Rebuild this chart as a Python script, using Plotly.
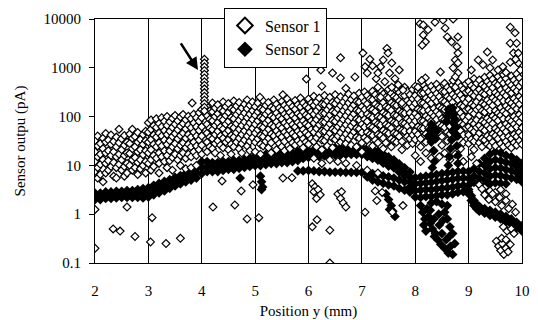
import math
import plotly.graph_objects as go

# ---------------- Sensor 1 (open diamonds) ----------------
# main cloud: (x position, [values in pA])
s1_cloud = [
    (2.00, [32, 19, 12, 7.5]), (2.05, [40, 25, 15, 9, 5.5]), (2.10, [28, 17, 10.5, 6.5]),
    (2.15, [36, 22, 13, 4.6]), (2.20, [45, 30, 18, 11, 7]), (2.25, [33, 20, 12.5, 8]),
    (2.30, [42, 27, 16, 9.5]), (2.35, [31, 19, 11.5, 6]), (2.40, [38, 24, 15, 9, 5.5]),
    (2.45, [55, 29, 17, 10.5]), (2.50, [35, 21, 13, 8]), (2.55, [41, 26, 16, 9.5, 6]),
    (2.60, [30, 18, 11, 7]), (2.65, [44, 28, 17.5, 10]), (2.70, [55, 36, 22, 13, 8]),
    (2.75, [39, 24, 14.5, 9]), (2.80, [47, 30, 19, 11.5, 6.5]), (2.85, [34, 21, 13, 8.5]),
    (2.90, [43, 27, 16.5, 10]), (2.95, [50, 32, 20, 12, 7]),
    (3.00, [75, 48, 30, 18, 11]), (3.05, [85, 55, 34, 21, 13, 8]), (3.10, [65, 42, 27, 16, 9.5]),
    (3.15, [90, 60, 38, 24, 14]), (3.20, [72, 46, 29, 18, 11, 7]), (3.25, [95, 62, 40, 25, 15]),
    (3.30, [80, 52, 33, 20, 12]), (3.35, [100, 66, 43, 27, 16, 9]), (3.40, [78, 50, 32, 20, 12.5]),
    (3.45, [92, 60, 39, 24, 14.5, 8]), (3.50, [105, 70, 45, 28, 17]), (3.55, [82, 54, 35, 22, 13]),
    (3.60, [98, 64, 41, 26, 16, 10]), (3.65, [110, 72, 46, 29, 18]), (3.70, [86, 56, 36, 23, 14, 8.5]),
    (3.75, [102, 67, 43, 27, 17]), (3.80, [90, 59, 38, 24, 15, 9]), (3.85, [112, 74, 48, 30, 19]),
    (3.90, [95, 62, 40, 25, 16, 10]), (3.95, [120, 80, 52, 33, 21]),
    (4.00, [140, 95, 62, 40, 26, 17]), (4.10, [160, 105, 70, 46, 30, 19]), (4.15, [130, 88, 58, 38, 24]),
    (4.20, [190, 125, 82, 54, 35, 22]), (4.25, [150, 100, 66, 43, 28, 18]), (4.30, [175, 115, 76, 50, 32]),
    (4.35, [140, 92, 61, 40, 26, 16]), (4.40, [200, 130, 86, 56, 36, 23]), (4.45, [160, 105, 70, 46, 30]),
    (4.50, [185, 122, 80, 52, 34, 21]), (4.55, [145, 96, 63, 41, 27, 17]), (4.60, [210, 138, 90, 59, 38, 24]),
    (4.65, [165, 110, 72, 47, 30]), (4.70, [195, 128, 84, 55, 36, 22]), (4.75, [150, 100, 66, 43, 28, 18]),
    (4.80, [180, 118, 78, 51, 33]), (4.85, [220, 145, 95, 62, 40, 25]), (4.90, [170, 112, 74, 48, 31, 20]),
    (4.95, [200, 132, 87, 57, 37]),
    (5.00, [160, 106, 70, 46, 30, 19]), (5.05, [190, 125, 82, 54, 35]), (5.10, [145, 96, 63, 41, 27, 17]),
    (5.15, [210, 138, 91, 60, 39, 25]), (5.20, [170, 112, 74, 48, 31]), (5.25, [195, 128, 84, 55, 36, 23]),
    (5.30, [155, 102, 67, 44, 29, 18]), (5.35, [220, 145, 95, 62, 40]), (5.40, [180, 118, 78, 51, 33, 21]),
    (5.45, [150, 99, 65, 43, 28]), (5.50, [205, 135, 89, 58, 38, 24]), (5.55, [170, 112, 74, 48, 31, 20]),
    (5.60, [230, 150, 100, 65, 42]), (5.65, [185, 122, 80, 52, 34, 22]), (5.70, [160, 105, 69, 45, 29]),
    (5.75, [215, 141, 93, 61, 40, 26]), (5.80, [175, 115, 76, 50, 32]), (5.85, [240, 158, 104, 68, 44, 28]),
    (5.90, [190, 125, 82, 54, 35, 23]), (5.95, [165, 108, 71, 47, 30]),
    (6.00, [230, 150, 99, 65, 42, 27]), (6.05, [190, 125, 82, 54, 35]), (6.10, [260, 170, 112, 74, 48, 31, 14]),
    (6.15, [200, 132, 87, 57, 37, 24]), (6.20, [240, 158, 104, 68, 44]), (6.25, [180, 118, 78, 51, 33, 21, 11]),
    (6.30, [270, 178, 117, 77, 50, 32]), (6.35, [210, 138, 91, 60, 39, 25]), (6.40, [250, 165, 108, 71, 46, 13]),
    (6.45, [195, 128, 84, 55, 36, 23]), (6.50, [280, 185, 122, 80, 52, 34]), (6.55, [220, 145, 95, 62, 40, 12]),
    (6.60, [255, 168, 110, 72, 47, 30]), (6.65, [200, 132, 87, 57, 37]), (6.70, [240, 158, 104, 68, 44, 28, 11]),
    (6.75, [290, 190, 125, 82, 54, 35]), (6.80, [225, 148, 97, 64, 41, 26]), (6.85, [265, 174, 114, 75, 49]),
    (6.90, [205, 135, 89, 58, 38, 24, 10]), (6.95, [300, 198, 130, 85, 56, 36]),
    (7.00, [250, 160, 112, 70, 47, 29, 19]), (7.05, [320, 205, 140, 88, 61, 37]), (7.10, [270, 182, 113, 79, 48, 33, 8]),
    (7.15, [230, 146, 101, 63, 43, 26]), (7.20, [330, 222, 139, 96, 60, 41, 25]), (7.25, [280, 180, 126, 77, 54, 33]),
    (7.30, [240, 162, 100, 70, 43, 29, 7]), (7.35, [350, 225, 155, 96, 67, 41]), (7.40, [290, 195, 121, 84, 52, 36, 22]),
    (7.45, [250, 160, 111, 69, 47, 29]), (7.50, [360, 243, 151, 105, 64, 45]), (7.55, [300, 192, 134, 82, 58, 35, 24]),
    (7.60, [260, 175, 108, 76, 46, 32]), (7.65, [380, 244, 169, 104, 73, 44, 30]), (7.70, [310, 209, 130, 91, 56, 39]),
    (7.75, [270, 173, 120, 74, 52, 31, 21]), (7.80, [400, 270, 168, 117, 72, 50]), (7.85, [330, 212, 147, 90, 64, 39, 26]),
    (7.90, [280, 189, 118, 82, 50, 35]), (7.95, [360, 231, 160, 99, 69, 42, 28]),
    (8.00, [420, 270, 187, 116, 81, 50, 34, 16]), (8.05, [340, 229, 142, 99, 62, 43]),
    (8.10, [300, 193, 134, 82, 58, 35, 24, 12]), (8.15, [450, 303, 189, 131, 81, 57]),
    (8.20, [370, 238, 165, 102, 71, 44, 30, 18]), (8.25, [320, 215, 134, 93, 58, 40]),
    (8.30, [420, 270, 187, 116, 81, 50, 34, 14]), (8.35, [350, 236, 147, 102, 63, 44, 20]),
    (8.40, [460, 296, 205, 127, 88, 55, 37]), (8.45, [380, 256, 159, 111, 68, 47, 15]),
    (8.50, [330, 212, 147, 91, 64, 39, 26]), (8.55, [480, 323, 201, 140, 86, 60, 18]),
    (8.60, [400, 257, 178, 110, 77, 48, 32]), (8.65, [350, 236, 146, 102, 63, 44, 13]),
    (8.70, [440, 283, 196, 121, 85, 52, 35]), (8.75, [370, 249, 155, 108, 66, 46, 17]),
    (8.80, [500, 322, 222, 138, 96, 59, 40]), (8.85, [410, 276, 171, 119, 73, 51, 22]),
    (8.90, [360, 231, 161, 99, 69, 42, 29, 12]), (8.95, [470, 317, 197, 137, 84, 59]),
    (9.00, [520, 334, 232, 143, 100, 62, 42, 28]), (9.05, [430, 290, 180, 125, 77, 54, 34, 15]),
    (9.10, [600, 386, 268, 166, 115, 71, 49, 31, 21]), (9.15, [480, 323, 201, 139, 86, 60, 38, 11]),
    (9.20, [560, 360, 250, 155, 107, 66, 46, 29, 4]), (9.25, [450, 303, 188, 131, 80, 56, 35, 24]),
    (9.30, [640, 411, 286, 176, 123, 75, 52, 33, 3.5]), (9.35, [520, 350, 217, 151, 92, 65, 40, 27]),
    (9.40, [700, 450, 312, 193, 134, 82, 57, 36, 25, 3]), (9.45, [580, 390, 242, 168, 103, 72, 44, 30]),
    (9.50, [480, 309, 214, 132, 92, 57, 40, 25, 2.8]), (9.55, [660, 444, 276, 192, 117, 82, 51, 35]),
    (9.60, [550, 354, 245, 152, 106, 65, 45, 28, 3.2]), (9.65, [720, 485, 301, 209, 128, 90, 56, 38, 24]),
    (9.70, [600, 386, 268, 165, 115, 71, 49, 31, 2.6]), (9.75, [500, 336, 209, 145, 89, 62, 39, 26]),
    (9.80, [680, 437, 303, 188, 131, 80, 56, 35, 23]), (9.85, [560, 377, 234, 163, 100, 70, 43, 29]),
    (9.90, [750, 482, 334, 207, 144, 88, 61, 39, 26]), (9.95, [620, 417, 259, 180, 110, 77, 48, 32]),
    (10.00, [500, 322, 223, 138, 96, 59, 41, 27]),
]
# the tall spike near y = 4 mm (marked by the arrow)
s1_spike_x = 4.05
s1_spike_y = [1500, 1250, 1050, 880, 740, 620, 520, 440, 370, 310, 260, 220, 185, 155, 130]
# scattered outliers
s1_out_x = [2.00, 2.00, 2.34, 2.47, 2.60, 2.75, 3.07, 3.04, 3.33, 3.60, 4.21, 4.62, 4.85, 5.07,
            4.74, 4.96, 4.38, 5.52, 5.69, 6.07, 6.16, 6.40, 6.40, 6.07, 6.12, 6.10, 6.18, 6.22,
            6.15, 6.55, 6.60, 6.65, 6.70, 6.62, 7.06, 7.28, 7.38, 7.57, 7.77, 7.25,
            9.25, 9.30, 9.38, 9.45, 9.50, 9.58, 9.62, 9.70, 9.75, 9.82, 9.88,
            9.52, 9.56, 9.60, 9.63, 9.66, 9.70, 9.74, 9.62, 9.70, 9.78, 9.65, 9.72, 9.80, 9.85,
            3.82, 5.09, 5.52, 5.96, 6.23, 6.60, 6.45, 6.60, 6.25, 6.70, 6.87, 7.02, 7.06, 7.10,
            7.15, 7.20, 7.27, 7.30, 7.35, 7.47, 7.49, 7.40, 7.56, 7.35, 7.30, 7.52, 7.43, 7.56,
            7.77, 7.75, 7.62, 7.68, 7.70,
            8.09, 8.15, 8.24, 8.15, 8.19, 8.13, 8.37, 8.52, 8.71, 8.56, 8.60, 8.68, 8.80, 8.78,
            8.80, 8.75, 8.80, 8.71, 8.80, 8.71, 8.75, 8.47, 8.19, 8.05, 8.12, 8.75,
            9.78, 9.87, 9.78, 9.90, 9.84, 9.93, 9.78, 9.93, 9.35, 9.18, 9.45, 9.64, 9.27, 9.05,
            9.55, 9.70, 9.40, 9.97, 9.88]
s1_out_y = [1.25, 0.2, 0.5, 0.45, 1.4, 0.35, 0.85, 0.27, 0.25, 0.32, 1.4, 1.55, 0.8, 0.85,
            3.0, 4.0, 4.8, 5.5, 5.6, 0.55, 0.77, 0.47, 0.1, 4.2, 3.6, 2.9, 3.2, 2.5,
            2.1, 2.6, 2.1, 1.7, 1.4, 2.9, 1.1, 1.9, 2.8, 1.1, 1.5, 3.0,
            3.3, 2.5, 2.0, 2.6, 1.8, 2.2, 1.5, 1.9, 1.3, 1.6, 1.1,
            0.28, 0.22, 0.18, 0.25, 0.15, 0.2, 0.17, 0.32, 0.3, 0.24, 0.55, 0.45, 0.5, 0.4,
            190, 250, 280, 590, 900, 1600, 780, 620, 420, 380, 650, 2000, 1050, 780,
            1500, 1100, 600, 400, 250, 2500, 2000, 1450, 1250, 1050, 780, 780, 520, 400,
            350, 190, 600, 450, 900,
            8000, 7500, 6000, 4700, 3400, 2900, 8600, 9500, 10000, 6500, 4300, 3400, 4300, 2700,
            2000, 1450, 1250, 1000, 780, 550, 400, 820, 620, 400, 550, 650,
            6800, 5200, 3200, 3200, 2000, 2000, 1300, 1250, 2100, 1450, 1450, 1050, 1150, 900,
            900, 800, 1000, 900, 1500]

# ---------------- Sensor 2 (filled diamonds) ----------------
# band from 2.0 to 5.7 mm: top, middle and bottom rows
s2_a_x = [2.0, 2.1, 2.2, 2.3, 2.4, 2.5, 2.6, 2.7, 2.8, 2.9, 3.0, 3.1, 3.2, 3.3, 3.4, 3.5, 3.6, 3.7, 3.8, 3.9,
          4.0, 4.1, 4.2, 4.3, 4.4, 4.5, 4.6, 4.7, 4.8, 4.9, 5.0, 5.1, 5.2, 5.3, 5.4, 5.5, 5.6, 5.7]
s2_a_top = [2.7, 2.7, 2.85, 2.85, 2.95, 2.95, 3.05, 3.05, 3.2, 3.35, 3.5, 3.9, 4.3, 4.7, 5.1, 5.65, 6.2, 6.8, 7.5, 8.5,
            12, 12, 11.4, 11.4, 12, 12, 12.6, 12.6, 13.2, 13.9, 16, 16, 16.8, 16.8, 17.5, 17.5, 18.4, 18.4]
s2_a_mid = [2.36, 2.36, 2.5, 2.5, 2.55, 2.6, 2.65, 2.65, 2.7, 2.7, 2.85, 3.1, 3.4, 3.8, 4.3, 4.7, 5.1, 5.65, 6.2, 7.0,
            9.1, 9.5, 9.3, 9.3, 9.7, 9.9, 10.2, 10.4, 10.9, 11.4, 12.6, 12.6, 13.2, 13.5, 13.9, 14.2, 14.6, 14.9]
s2_a_bot = [2.0, 2.0, 2.1, 2.1, 2.15, 2.2, 2.2, 2.2, 2.2, 2.15, 2.25, 2.5, 2.75, 3.0, 3.4, 3.8, 4.2, 4.6, 5.0, 5.5,
            6.8, 7.5, 7.5, 7.5, 7.9, 8.3, 8.3, 8.7, 9.1, 9.5, 9.9, 9.9, 10.4, 10.9, 10.9, 11.4, 11.4, 12.0]
# upper band from 5.8 to 7.9 mm
s2_b_x = [5.8, 5.9, 6.0, 6.1, 6.2, 6.3, 6.4, 6.5, 6.6, 6.7, 6.8, 6.9, 7.0, 7.1, 7.2, 7.3, 7.4, 7.5, 7.6, 7.7, 7.8, 7.9]
s2_b_top = [19.3, 19.3, 20.2, 20.7, 21.2, 21.7, 22.3, 22.8, 22.8, 23.4, 23.4, 23.4, 23.4, 22.3, 21.2, 19.7, 17.1, 14.9, 12.9, 10.7, 8.9, 7.3]
s2_b_mid = [15.6, 16.3, 17.1, 17.5, 17.9, 18.4, 18.8, 19.3, 19.3, 19.7, 19.7, 19.7, 19.7, 18.4, 17.5, 16.0, 13.9, 12.0, 10.6, 8.9, 7.3, 5.8]
s2_b_bot = [12.6, 13.9, 14.6, 14.9, 15.2, 15.6, 16.0, 16.3, 16.3, 16.8, 16.8, 16.8, 16.8, 15.2, 13.9, 12.9, 11.1, 9.7, 8.9, 7.3, 6.1, 4.6]
# lower band from 5.8 to 7.9 mm
s2_c_y = [7.7, 7.7, 7.9, 7.7, 7.5, 7.5, 7.3, 7.3, 7.3, 7.2, 7.2, 7.2, 7.2, 7.0, 6.8, 6.3, 6.1, 5.8, 5.5, 5.0, 4.6, 3.6]
s2_c2_x = [7.1, 7.2, 7.3, 7.4, 7.5, 7.6, 7.7, 7.8, 7.9]
s2_c2_y = [5.8, 5.0, 4.6, 4.3, 4.0, 3.8, 3.4, 3.1, 2.85]
# main mass from 8.0 to 9.0 mm (four rows)
s2_d_x = [8.0, 8.1, 8.2, 8.3, 8.4, 8.5, 8.6, 8.7, 8.8, 8.9, 9.0]
s2_d_r1 = [5.6, 5.8, 6.0, 6.2, 6.5, 6.8, 7.0, 7.2, 7.5, 7.6, 7.5]
s2_d_r2 = [4.2, 4.3, 4.4, 4.5, 4.7, 4.9, 5.0, 5.2, 5.4, 5.5, 5.4]
s2_d_r3 = [3.05, 3.1, 3.2, 3.2, 3.3, 3.4, 3.5, 3.6, 3.8, 3.9, 3.9]
s2_d_r4 = [2.25, 2.2, 2.3, 2.3, 2.4, 2.5, 2.5, 2.6, 2.8, 2.9, 2.9]
# upper mass from 9.1 to 10 mm
s2_e = [
    (9.1, [8.5, 6.0, 4.5]), (9.2, [11, 7.5, 5.5, 4.0]), (9.3, [14, 10, 7, 5, 3.8]),
    (9.4, [17, 12, 8.5, 6, 4.2]), (9.5, [19, 13, 9, 6.3, 4.4]), (9.6, [18, 12.5, 8.8, 6.2, 4.3]),
    (9.7, [16, 11.5, 8.2, 5.8, 4.2]), (9.8, [15, 11, 7.8, 5.5]), (9.9, [13, 9.5, 7, 5.2]),
    (10.0, [11, 8, 6, 4.6]),
]
# descending lower branch 9 to 10 mm
s2_f_x = [9.0, 9.05, 9.1, 9.15, 9.2, 9.3, 9.4, 9.5, 9.6, 9.7, 9.8, 9.9, 10.0]
s2_f_r1 = [3.2, 2.4, 1.9, 1.6, 1.45, 1.3, 1.2, 1.1, 1.0, 0.9, 0.8, 0.68, 0.58]
s2_f_r2 = [2.6, 1.9, 1.5, 1.3, 1.15, 1.05, 0.95, 0.87, 0.8, 0.7, 0.62, 0.53, 0.45]
# isolated groups: dip at 5.1, cluster at 7.5, drops at 8-9 mm
s2_g_x = [5.10, 5.12, 5.14, 5.12, 4.72,
          7.45, 7.50, 7.55, 7.58, 7.62, 7.52,
          8.10, 8.14, 8.18, 8.16, 8.22, 8.25, 8.28, 8.32, 8.35, 8.38, 8.42, 8.45, 8.48, 8.50,
          8.55, 8.58, 8.62, 8.66, 8.70, 8.74, 8.70, 8.65, 8.60, 8.55, 8.60, 8.50, 8.40, 8.30,
          8.20, 8.28, 8.44, 8.36, 8.52, 8.64]
s2_g_y = [6.0, 4.6, 3.6, 3.2, 5.5,
          2.6, 2.0, 1.5, 1.15, 0.9, 1.25,
          1.5, 1.1, 0.8, 0.6, 1.3, 0.9, 0.65, 0.5, 0.8, 0.4, 0.3, 0.6, 0.24, 0.4,
          0.2, 0.3, 0.16, 0.22, 0.15, 0.25, 0.4, 0.55, 0.8, 1.1, 1.5, 1.6, 1.8, 1.7,
          0.45, 1.2, 1.0, 0.35, 0.75, 0.35]
# loop rising above the band near 8.3-8.8 mm (drawn in front)
s2_loop_x = [8.25, 8.28, 8.30, 8.33, 8.36, 8.38, 8.30, 8.40, 8.34, 8.36, 8.32,
             8.62, 8.64, 8.66, 8.68, 8.70, 8.71, 8.72, 8.70, 8.68, 8.74, 8.76, 8.78, 8.78, 8.80, 8.80,
             8.60, 8.62, 8.64, 8.58]
s2_loop_y = [40, 55, 70, 60, 45, 35, 30, 50, 20, 12, 9,
             10, 15, 22, 33, 50, 75, 110, 150, 130, 90, 60, 40, 25, 16, 11,
             100, 140, 120, 80]

# ---------------- assemble ----------------
s1_x, s1_y = [], []
for xv, vals in s1_cloud:
    for v in vals:
        s1_x.append(xv); s1_y.append(v)
for v in s1_spike_y:
    s1_x.append(s1_spike_x); s1_y.append(v)
s1_x += s1_out_x; s1_y += s1_out_y

s2_x, s2_y = [], []
for row in (s2_a_top, s2_a_mid, s2_a_bot):
    s2_x += s2_a_x; s2_y += row
for row in (s2_b_top, s2_b_mid, s2_b_bot, s2_c_y):
    s2_x += s2_b_x; s2_y += row
s2_x += s2_c2_x; s2_y += s2_c2_y
for row in (s2_d_r1, s2_d_r2, s2_d_r3, s2_d_r4):
    s2_x += s2_d_x; s2_y += row
for xv, vals in s2_e:
    for v in vals:
        s2_x.append(xv); s2_y.append(v)
for row in (s2_f_r1, s2_f_r2):
    s2_x += s2_f_x; s2_y += row
s2_x += s2_g_x; s2_y += s2_g_y

FONT = "Liberation Serif"
S2_MARKER = dict(symbol="diamond", size=7.5, color="black", line=dict(width=0))

fig = go.Figure()
fig.add_trace(go.Scatter(
    x=s2_x, y=s2_y, mode="markers", name="Sensor 2", legendrank=2, marker=S2_MARKER,
))
fig.add_trace(go.Scatter(
    x=s1_x, y=s1_y, mode="markers", name="Sensor 1", legendrank=1,
    marker=dict(symbol="diamond", size=6, color="white", line=dict(width=1.2, color="black")),
))
fig.add_trace(go.Scatter(
    x=s2_loop_x, y=s2_loop_y, mode="markers", name="Sensor 2", showlegend=False, marker=S2_MARKER,
))

fig.add_annotation(
    x=3.93, y=math.log10(900), ax=3.59, ay=math.log10(3400),
    xref="x", yref="y", axref="x", ayref="y",
    text="", showarrow=True, arrowhead=2, arrowsize=1.0, arrowwidth=2.5, arrowcolor="black",
)

fig.update_layout(
    width=538, height=320,
    margin=dict(l=95, r=16, t=19, b=57, autoexpand=False),
    paper_bgcolor="white", plot_bgcolor="white",
    font=dict(family=FONT, size=15, color="black"),
    showlegend=True,
    legend=dict(
        x=0.302, y=1.047, xanchor="left", yanchor="top",
        bgcolor="white", bordercolor="black", borderwidth=1,
        font=dict(family=FONT, size=16, color="black"),
        itemsizing="constant",
    ),
    xaxis=dict(
        range=[2, 10], tickvals=[2, 3, 4, 5, 6, 7, 8, 9, 10], automargin=False,
        showgrid=True, gridcolor="black", gridwidth=1,
        showline=True, linecolor="black", linewidth=1, mirror=True, zeroline=False,
        ticks="outside", ticklen=14, tickcolor="rgba(0,0,0,0)",
        tickfont=dict(family=FONT, size=15),
        title=dict(text="Position y (mm)", font=dict(family=FONT, size=15), standoff=8),
    ),
    yaxis=dict(
        type="log", range=[-1, 4], automargin=False,
        tickvals=[0.1, 1, 10, 100, 1000, 10000],
        ticktext=["0.1", "1", "10", "100", "1000", "10000"],
        showgrid=False, showline=True, linecolor="black", linewidth=1, mirror=True, zeroline=False,
        ticks="outside", ticklen=5, tickcolor="black", ticklabelstandoff=5,
        tickfont=dict(family=FONT, size=15),
        title=dict(text="Sensor outpu (pA)", font=dict(family=FONT, size=15), standoff=14),
    ),
)

fig.write_html("out.html")
